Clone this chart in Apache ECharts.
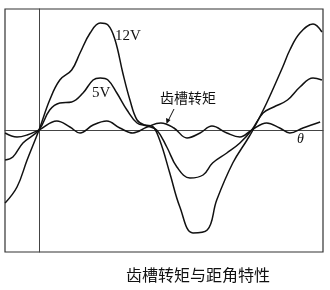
<!DOCTYPE html>
<html><head><meta charset="utf-8">
<script src="https://cdn.jsdelivr.net/npm/echarts@6/dist/echarts.min.js"></script>
<style>html,body{margin:0;padding:0;background:#fff}#c{width:330px;height:290px}</style>
</head><body><div id="c"></div>
<script>
// θ in electrical degrees, torque in arbitrary units
const theta12 = [-57,-37,-20,0,18,35,55,69,86,103,116,128,141,153,165,178,190,203,220,237,259,283,299,326,350,360,383,410,422,439,461,476];
const torque12 = [-73,-57,-30,0,30,50,60,77,97,107,105,90,57,30,10,5,4,-10,-43,-77,-103,-100,-70,-33,-10,0,27,63,80,97,106,98];
const theta5 = [-57,-44,-27,0,18,35,55,74,91,103,116,131,148,165,182,198,215,232,254,276,292,316,338,358,377,395,418,439,461,476];
const torque5 = [-30,-27,-13,0,20,27,28,37,50,52,50,37,20,7,4,0,-17,-37,-48,-45,-33,-23,-13,0,17,23,30,43,52,50];
const thetaC = [-57,-37,-20,0,30,52,69,91,114,136,158,182,205,227,249,271,291,316,338,358,383,405,422,444,473];
const torqueC = [-3,-7,-5,0,9,3,-3,5,9,2,-3,3,7,2,-8,-3,4,-3,-7,0,7,2,-3,2,8];
const title = '齿槽转矩与距角特性';
const labels = { v12: '12V', v5: '5V', cog: '齿槽转矩', axis: 'θ' };

const zip = (a, b) => a.map((x, i) => [x, b[i]]);
const chart = echarts.init(document.getElementById('c'), null, { renderer: 'canvas' });
const lineStyle = { color: '#111', width: 1.5 };
const serif = '"Liberation Serif","DejaVu Serif",serif';
const cjk = '"Noto Sans CJK SC","Noto Sans CJK JP",sans-serif';
chart.setOption({
  backgroundColor: '#fff',
  animation: false,
  grid: { left: 5, right: 7, top: 9, bottom: 38, show: true, borderColor: '#333', borderWidth: 1.2, containLabel: false },
  xAxis: { type: 'value', min: -57.2, max: 477.8, axisLine: { onZero: true, lineStyle: { color: '#444', width: 1 } },
    axisTick: { show: false }, axisLabel: { show: false }, splitLine: { show: false } },
  yAxis: { type: 'value', min: -122, max: 121, axisLine: { show: true, onZero: true, lineStyle: { color: '#444', width: 1 } },
    axisTick: { show: false }, axisLabel: { show: false }, splitLine: { show: false } },
  title: { text: title, left: 193, textAlign: 'center', top: 262, textStyle: { fontFamily: cjk, fontSize: 16, fontWeight: 'normal', color: '#111' } },
  series: [
    { type: 'line', data: zip(theta12, torque12), smooth: 0.4, showSymbol: false, lineStyle },
    { type: 'line', data: zip(theta5, torque5), smooth: 0.4, showSymbol: false, lineStyle },
    { type: 'line', data: zip(thetaC, torqueC), smooth: 0.4, showSymbol: false, lineStyle }
  ],
  graphic: [
    { type: 'text', left: 115, top: 29, style: { text: labels.v12, font: '15px ' + serif, fill: '#111' } },
    { type: 'text', left: 92, top: 86, style: { text: labels.v5, font: '15px ' + serif, fill: '#111' } },
    { type: 'text', left: 160, top: 91, style: { text: labels.cog, font: '14px ' + cjk, fill: '#111' } },
    { type: 'text', left: 297, top: 132, style: { text: labels.axis, font: 'italic 14px ' + serif, fill: '#111' } },
    { type: 'line', shape: { x1: 174, y1: 109, x2: 168, y2: 121 }, style: { stroke: '#111', lineWidth: 1 } },
    { type: 'polygon', shape: { points: [[166.5, 124], [166, 118], [170.5, 120]] }, style: { fill: '#111' } }
  ]
});
</script></body></html>
